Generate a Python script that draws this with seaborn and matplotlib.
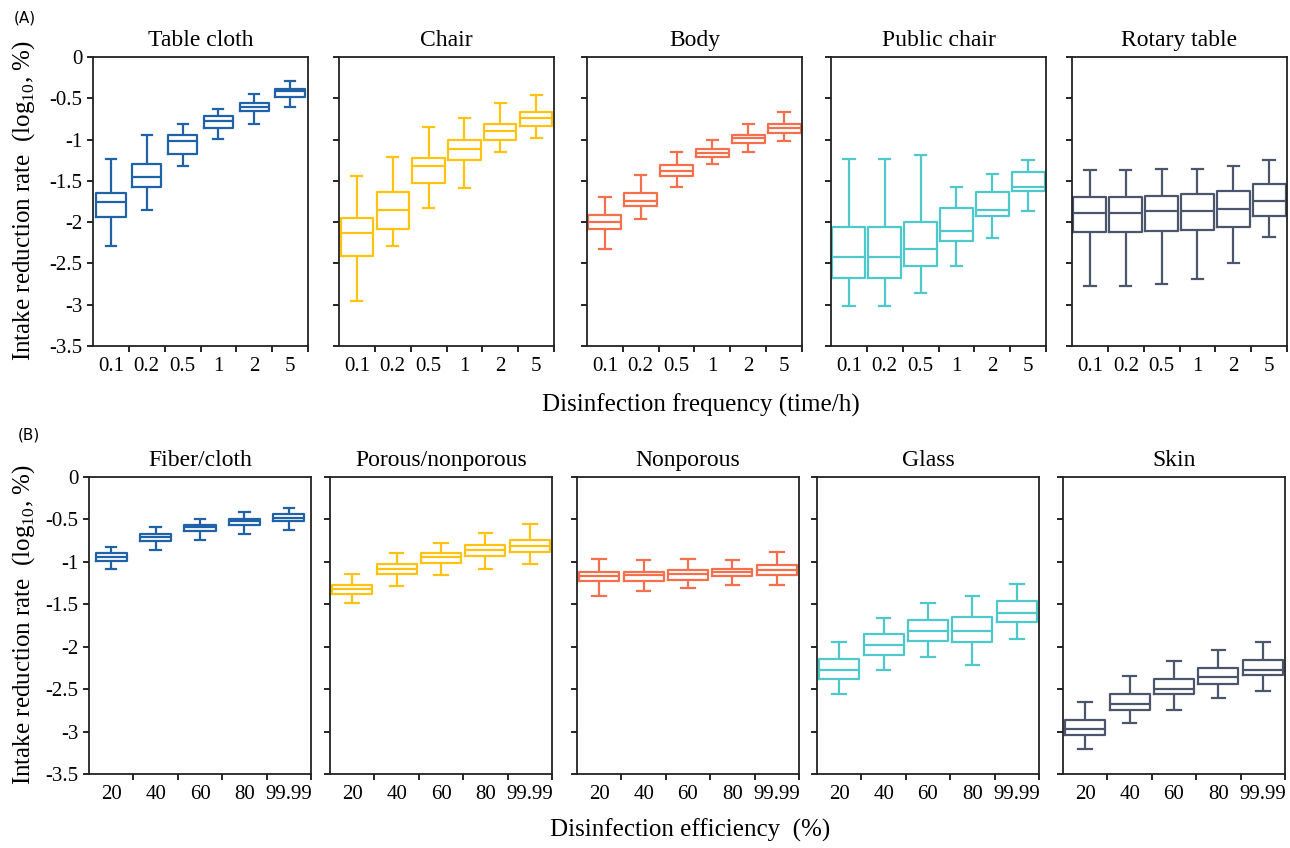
import numpy as np
import pandas as pd
import seaborn as sns
import matplotlib.pyplot as plt
from matplotlib.ticker import FixedLocator

# Box statistics: [whisker low, Q1, median, Q3, whisker high]
freq_labels = ['0.1', '0.2', '0.5', '1', '2', '5']
eff_labels = ['20', '40', '60', '80', '99.99']

table_cloth = [[-2.29, -1.94, -1.76, -1.65, -1.24],
               [-1.85, -1.58, -1.45, -1.29, -0.94],
               [-1.32, -1.17, -1.02, -0.94, -0.81],
               [-0.99, -0.86, -0.77, -0.72, -0.625],
               [-0.81, -0.65, -0.60, -0.56, -0.45],
               [-0.60, -0.48, -0.41, -0.39, -0.29]]
chair = [[-2.96, -2.41, -2.13, -1.95, -1.44],
         [-2.29, -2.08, -1.85, -1.64, -1.21],
         [-1.83, -1.52, -1.32, -1.22, -0.85],
         [-1.59, -1.25, -1.11, -1.01, -0.74],
         [-1.15, -1.00, -0.90, -0.81, -0.56],
         [-0.98, -0.84, -0.74, -0.67, -0.46]]
body = [[-2.32, -2.08, -2.00, -1.91, -1.69],
        [-1.96, -1.80, -1.75, -1.65, -1.43],
        [-1.57, -1.44, -1.375, -1.31, -1.15],
        [-1.29, -1.21, -1.16, -1.11, -1.01],
        [-1.15, -1.04, -0.98, -0.94, -0.81],
        [-1.02, -0.92, -0.86, -0.81, -0.67]]
public_chair = [[-3.02, -2.68, -2.42, -2.06, -1.23],
                [-3.02, -2.68, -2.42, -2.06, -1.23],
                [-2.86, -2.53, -2.32, -2.00, -1.19],
                [-2.53, -2.23, -2.11, -1.83, -1.58],
                [-2.19, -1.92, -1.85, -1.63, -1.42],
                [-1.87, -1.62, -1.57, -1.39, -1.25]]
rotary_table = [[-2.77, -2.12, -1.89, -1.69, -1.37],
                [-2.77, -2.12, -1.89, -1.69, -1.37],
                [-2.75, -2.11, -1.87, -1.68, -1.36],
                [-2.69, -2.09, -1.87, -1.66, -1.36],
                [-2.50, -2.06, -1.84, -1.62, -1.32],
                [-2.18, -1.93, -1.75, -1.54, -1.25]]

fiber_cloth = [[-1.08, -0.99, -0.94, -0.90, -0.82],
               [-0.865, -0.75, -0.71, -0.67, -0.59],
               [-0.74, -0.64, -0.59, -0.56, -0.49],
               [-0.67, -0.57, -0.52, -0.49, -0.41],
               [-0.62, -0.52, -0.48, -0.44, -0.37]]
porous_nonporous = [[-1.49, -1.38, -1.32, -1.27, -1.14],
                    [-1.29, -1.14, -1.08, -1.02, -0.89],
                    [-1.16, -1.01, -0.94, -0.89, -0.775],
                    [-1.08, -0.93, -0.86, -0.80, -0.66],
                    [-1.02, -0.88, -0.81, -0.74, -0.55]]
nonporous = [[-1.40, -1.23, -1.17, -1.12, -0.97],
             [-1.34, -1.22, -1.16, -1.12, -0.975],
             [-1.31, -1.21, -1.14, -1.10, -0.97],
             [-1.27, -1.17, -1.12, -1.085, -0.975],
             [-1.27, -1.16, -1.10, -1.04, -0.885]]
glass = [[-2.56, -2.38, -2.27, -2.15, -1.95],
         [-2.28, -2.10, -1.98, -1.85, -1.66],
         [-2.12, -1.93, -1.81, -1.68, -1.48],
         [-2.22, -1.94, -1.81, -1.65, -1.40],
         [-1.91, -1.71, -1.60, -1.46, -1.26]]
skin = [[-3.21, -3.04, -2.97, -2.86, -2.65],
        [-2.90, -2.74, -2.68, -2.56, -2.35],
        [-2.74, -2.56, -2.50, -2.38, -2.17],
        [-2.60, -2.44, -2.36, -2.25, -2.04],
        [-2.52, -2.33, -2.27, -2.16, -1.95]]

top_titles = ['Table cloth', 'Chair', 'Body', 'Public chair', 'Rotary table']
top_data = [table_cloth, chair, body, public_chair, rotary_table]
bottom_titles = ['Fiber/cloth', 'Porous/nonporous', 'Nonporous', 'Glass', 'Skin']
bottom_data = [fiber_cloth, porous_nonporous, nonporous, glass, skin]
colors = ['#1f62a8', '#ffc20e', '#f46f4c', '#4ec8cb', '#4b566d']
top_widths = [0.82, 0.9, 0.92, 0.92, 0.92]
bottom_widths = [0.7, 0.9, 0.9, 0.9, 0.9]

plt.rcParams['font.family'] = 'Liberation Serif'
plt.rcParams['mathtext.fontset'] = 'custom'
plt.rcParams['mathtext.rm'] = 'Liberation Serif'

W, H = 1290, 848
fig = plt.figure(figsize=(W / 100, H / 100), dpi=100)

# axes positions in pixels (left, top, width, height)
top_lefts = [93, 339, 587, 831, 1072]
bottom_lefts = [89, 330, 577, 817, 1063]


def to_long(stats, labels):
    rows = []
    for lab, vals in zip(labels, stats):
        for v in vals:
            rows.append({'cat': lab, 'val': v})
    return pd.DataFrame(rows)


def shrink_caps(ax, width, frac=0.34):
    # caps are the short horizontal lines (medians span the whole box)
    for ln in ax.lines:
        x = np.asarray(ln.get_xdata(), dtype=float)
        y = np.asarray(ln.get_ydata(), dtype=float)
        if len(x) == 2 and y[0] == y[1]:
            span = abs(x[1] - x[0])
            if 0 < span < 0.75 * width:
                c = x.mean()
                ln.set_xdata([c - frac * width / 2, c + frac * width / 2])


def draw_panel(rect, stats, labels, title, color, width, first):
    left, top, w, h = rect
    ax = fig.add_axes([left / W, 1 - (top + h) / H, w / W, h / H])
    df = to_long(stats, labels)
    sns.boxplot(data=df, x='cat', y='val', order=labels, ax=ax, fill=False,
                color=color, width=width, whis=(0, 100), showfliers=False,
                linewidth=1.6)
    shrink_caps(ax, width)
    ax.set_ylim(-3.5, 0)
    ax.set_xlim(-0.5, len(labels) - 0.5)
    ax.set_yticks([0, -0.5, -1, -1.5, -2, -2.5, -3, -3.5])
    if first:
        ax.set_yticklabels(['0', '-0.5', '-1', '-1.5', '-2', '-2.5', '-3', '-3.5'], fontsize=15)
    else:
        ax.set_yticklabels([])
    ax.tick_params(axis='y', length=4, width=1.2, direction='out')
    # labels at category centres, ticks between categories
    ax.set_xticks(range(len(labels)))
    ax.set_xticklabels(labels, fontsize=15)
    ax.tick_params(axis='x', which='major', length=0, pad=8)
    ax.xaxis.set_minor_locator(FixedLocator([i + 0.5 for i in range(len(labels))]))
    ax.tick_params(axis='x', which='minor', length=4, width=1.2, direction='out')
    ax.set_xlabel('')
    ax.set_ylabel('')
    for s in ax.spines.values():
        s.set_linewidth(1.3)
        s.set_color('#222222')
    ax.set_title(title, fontsize=17, pad=8)
    return ax


for i in range(5):
    draw_panel((top_lefts[i], 57, 215, 289), top_data[i], freq_labels,
               top_titles[i], colors[i], top_widths[i], i == 0)
    draw_panel((bottom_lefts[i], 477, 222, 297), bottom_data[i], eff_labels,
               bottom_titles[i], colors[i], bottom_widths[i], i == 0)

ylab = r'Intake reduction rate  (log$_{\mathrm{10}}$, %)'
fig.text(24 / W, 1 - 201 / H, ylab, rotation=90, ha='center', va='center', fontsize=18)
fig.text(24 / W, 1 - 625 / H, ylab, rotation=90, ha='center', va='center', fontsize=18)
fig.text(701 / W, 1 - 405 / H, 'Disinfection frequency (time/h)', ha='center', va='center', fontsize=18)
fig.text(690 / W, 1 - 830 / H, 'Disinfection efficiency  (%)', ha='center', va='center', fontsize=18)
fig.text(14 / W, 1 - 18 / H, '(A)', family='DejaVu Sans', fontsize=11, va='center')
fig.text(18 / W, 1 - 435 / H, '(B)', family='DejaVu Sans', fontsize=11, va='center')

fig.savefig('out.png', dpi=100)
